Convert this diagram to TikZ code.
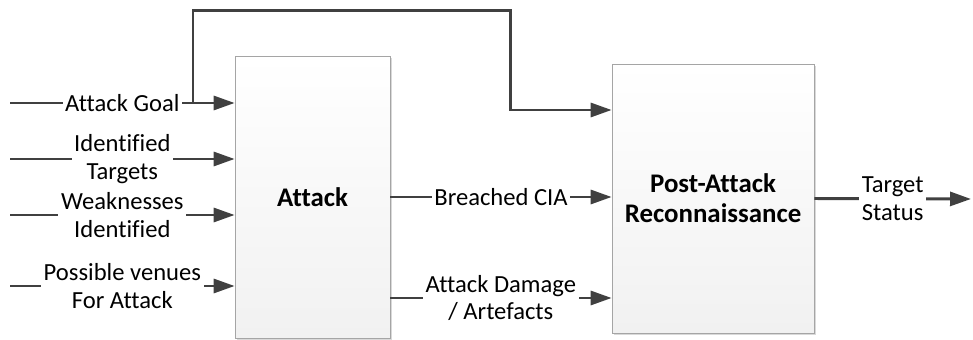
\documentclass[tikz,border=0pt]{standalone}
\usepackage{fontspec}
\setmainfont{Carlito}[Ligatures=NoCommon]
\usetikzlibrary{arrows.meta,positioning,shadows}
\definecolor{FlowDark}{RGB}{64,64,64}
\definecolor{BoxEdge}{RGB}{165,165,165}

\begin{document}
\begin{tikzpicture}[x=0.02cm,y=-0.02cm,>={Triangle[length=0.42cm,width=0.28cm]}]
    \tikzset{phase/.style={draw=BoxEdge,thin,top color=white,bottom color=gray!11,general shadow={fill=gray!30,shadow xshift=1.2pt,shadow yshift=-1.2pt},align=center,inner sep=0pt,text=black,font=\fontsize{15.3}{17}\selectfont\bfseries},
      flow/.style={->,FlowDark,line width=1.7pt},
      tag/.style={fill=white,inner sep=1.5pt,align=center,text=black,font=\fontsize{14}{15.9}\selectfont}}
    \useasboundingbox (0,0) rectangle (973,340);
    \node[phase,minimum width=3.1cm,minimum height=5.64cm] (attack) at (312.5,197) {Attack};
    \node[phase,minimum width=4.04cm,minimum height=5.38cm] (post) at (713,198.5) {Post-Attack\\Reconnaissance};
    % inputs of the attack
    \coordinate (goal) at (10,103);
    \coordinate (targets) at (10,159);
    \coordinate (weak) at (10,215);
    \coordinate (venues) at (10,286);
    \draw[flow] (goal) -- node[tag] {Attack Goal} (goal -| attack.west);
    \draw[flow] (targets) -- node[tag] {Identified\\Targets} (targets -| attack.west);
    \draw[flow] (weak) -- node[tag] {Weaknesses\\Identified} (weak -| attack.west);
    \draw[flow] (venues) -- node[tag] {Possible venues\\For Attack} (venues -| attack.west);
    % goal also feeds the reconnaissance
    \coordinate (split) at (193,103);
    \coordinate (over) at (510,11);
    \coordinate (drop) at (510,110);
    \draw[flow] (split) |- (over) -- (drop) -- (drop -| post.west);
    % outputs
    \coordinate (damage) at (390,298);
    \coordinate (status) at (971,199);
    \draw[flow] (attack.east) -- node[tag] {Breached CIA} (attack.east -| post.west);
    \draw[flow] (damage) -- node[tag] {Attack Damage\\/ Artefacts} (damage -| post.west);
    \draw[flow] (post.east) -- node[tag] {Target\\Status} (status);
  \end{tikzpicture}
\end{document}
